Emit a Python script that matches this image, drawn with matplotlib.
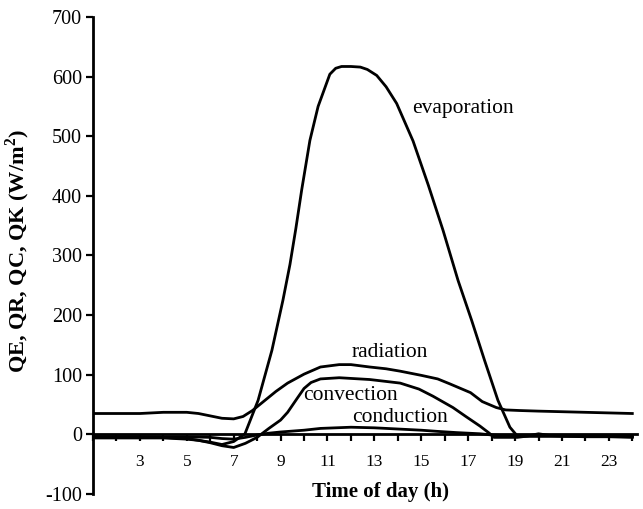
import numpy as np
from matplotlib import pyplot as plt, rcParams
from matplotlib.ticker import MultipleLocator

rcParams["font.family"] = ["Liberation Serif", "DejaVu Serif"]
rcParams["axes.unicode_minus"] = False
rcParams["mathtext.fontset"] = "custom"
rcParams["mathtext.rm"] = "Liberation Serif"
rcParams["mathtext.bf"] = "Liberation Serif:bold"

# Values (hour of day, W/m2)
evap_h = [1, 2, 3, 4, 5, 5.5, 6, 6.5, 7, 7.48, 8.04, 8.63, 9.1, 9.4, 9.65,
          9.9, 10.25, 10.6, 10.85, 11.1, 11.35, 11.6, 12, 12.4, 12.7, 13.1,
          13.5, 13.95, 14.65, 15.3, 15.93, 16.57, 17.15, 17.7, 18.27, 18.78,
          19.1, 19.5, 20, 20.5, 21, 22, 23, 24]
evap = [-6, -6, -6, -6, -8, -10, -13, -17, -12, 1, 57, 141, 225, 285, 345,
        410, 493, 550, 577, 604, 614, 617, 617, 616, 612, 602,
        583, 555, 492, 418, 342, 258, 191, 124, 57, 12,
        -3, -3, 1, -2, -3, -4, -4, -5]

rad_h = [1, 2, 3, 4, 5, 5.5, 6, 6.5, 7, 7.4, 7.8, 8.3, 8.8, 9.3, 10, 10.7,
         11.5, 12, 12.8, 13.5, 14.1, 15, 15.7, 16.2, 17.1, 17.6, 18.2, 18.6,
         19.2, 20, 21, 22, 23, 24]
rad = [35, 35, 35, 37, 37, 35, 31, 27, 26, 30, 40, 56, 72, 86, 101, 113,
       117, 117, 113, 110, 106, 99, 93, 85, 70, 55, 45, 41,
       40, 39, 38, 37, 36, 35]

conv_h = [1, 2, 3, 4, 5, 5.5, 6, 6.5, 7, 7.5, 8, 8.5, 9, 9.3, 9.7, 10, 10.3,
          10.7, 11.5, 12.8, 14.1, 14.9, 15.5, 16.35, 16.9, 17.5, 17.9, 18.1,
          18.5, 19.1, 19.5, 20, 22, 24]
conv = [-4, -4, -4, -5, -7, -10, -14, -19, -22, -15, -5, 10, 24, 37, 60, 77, 87,
        93, 95, 92, 86, 76, 64, 45, 30, 14, 2, -5,
        -5, -5, -3, -3, -3, -4]

cond_h = [1, 2, 3, 4, 5, 6, 6.5, 7, 7.5, 8, 8.5, 9, 10, 10.7, 12, 13, 14, 15,
          15.7, 16.5, 17.5, 18, 19, 24]
cond = [-4, -4, -4, -4, -4, -5, -7, -8, -5, -1, 2, 4, 7, 10, 12, 11, 9, 7,
        5, 3, 1, -1, -3, -3]

labels = ["evaporation", "radiation", "convection", "conduction"]
label_pos = [(14.6, 547), (12.05, 138), (9.96, 65), (12.05, 28)]

fig = plt.figure(figsize=(6.43, 5.09), dpi=100)
ax = fig.add_axes([93 / 643, 1 - 494 / 509, 544 / 643, 477 / 509])

for h, v in [(evap_h, evap), (rad_h, rad), (conv_h, conv), (cond_h, cond)]:
    ax.plot(h, v, c="k", lw=2.0, solid_joinstyle="round")

for txt, (x, y) in zip(labels, label_pos):
    ax.text(x, y, txt, fontsize=15.5, va="center", ha="left")

ax.set_xlim(1, 24.2)
ax.set_ylim(-100, 700)
ax.spines["top"].set_visible(False)
ax.spines["right"].set_visible(False)
ax.spines["left"].set_linewidth(2)
ax.spines["bottom"].set_position(("data", 0))
ax.spines["bottom"].set_linewidth(2)

ax.set_yticks(np.arange(-100, 701, 100))
ax.tick_params(axis="y", direction="out", length=5, width=1.6,
               labelsize=14.5, pad=3)
ax.set_xticks(np.arange(3, 24, 2))
ax.xaxis.set_minor_locator(MultipleLocator(1))
ax.tick_params(axis="x", which="both", direction="out", length=5, width=1.6,
               labelsize=12.5, pad=9)

ax.set_xlabel("Time of day (h)", fontsize=15, fontweight="bold")
ax.xaxis.set_label_coords(0.528, 0.025)
ax.set_ylabel(r"QE, QR, QC, QK (W/m$^\mathbf{2}$)", fontsize=16,
              fontweight="bold")
ax.yaxis.set_label_coords(-0.112, 0.51)

fig.savefig("out.png", dpi=100)
